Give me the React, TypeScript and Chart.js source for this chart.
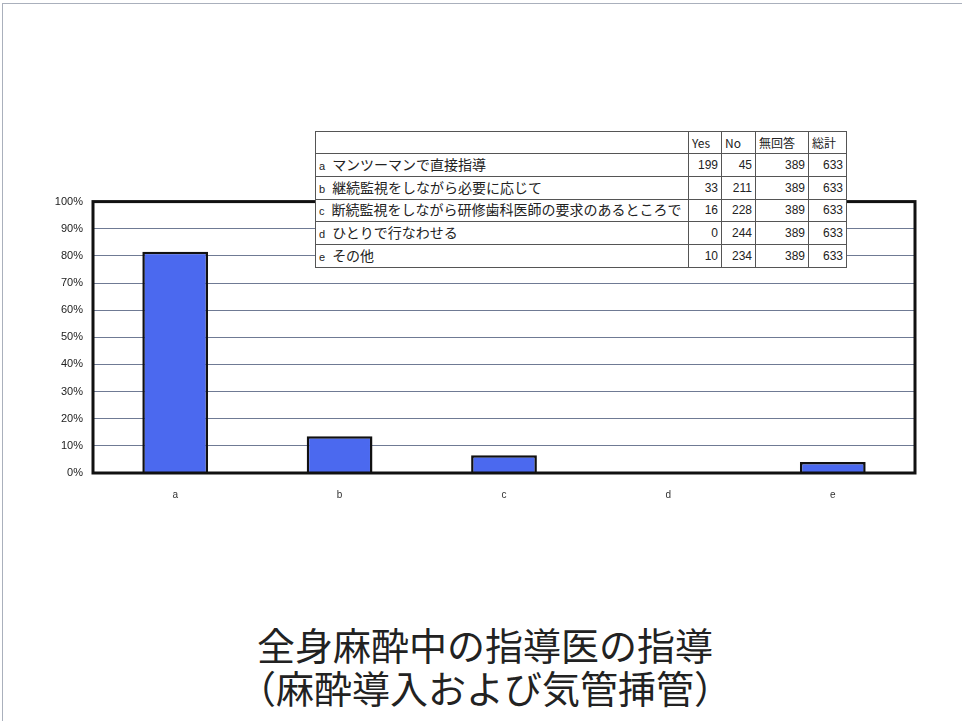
import React, { useEffect, useRef } from "react";
import { Chart, registerables } from "chart.js";

Chart.register(...registerables);

const categories = ["a", "b", "c", "d", "e"];
const descriptions = [
  "マンツーマンで直接指導",
  "継続監視をしながら必要に応じて",
  "断続監視をしながら研修歯科医師の要求のあるところで",
  "ひとりで行なわせる",
  "その他",
];
const yesCounts = [199, 33, 16, 0, 10];
const noCounts = [45, 211, 228, 244, 234];
const noAnswer = [389, 389, 389, 389, 389];
const totals = [633, 633, 633, 633, 633];
const headers = ["Yes", "No", "無回答", "総計"];
const yesRatio = yesCounts.map((y, i) => (y / (y + noCounts[i])) * 100);
const titleLines = ["全身麻酔中の指導医の指導", "（麻酔導入および気管挿管）"];

const CJK = '"Noto Sans CJK JP", "Liberation Sans", sans-serif';

const frame = {
  id: "frame",
  afterDatasetsDraw(chart: any) {
    const { ctx, chartArea } = chart;
    ctx.save();
    ctx.strokeStyle = "#111";
    ctx.lineWidth = 3;
    ctx.strokeRect(chartArea.left, chartArea.top, chartArea.right - chartArea.left, chartArea.bottom - chartArea.top);
    ctx.restore();
  },
};

export default function App() {
  const ref = useRef<HTMLCanvasElement>(null);
  useEffect(() => {
    if (!ref.current) return;
    const chart = new Chart(ref.current, {
      type: "bar",
      data: {
        labels: categories,
        datasets: [
          {
            data: yesRatio,
            backgroundColor: "#4b69ef",
            borderColor: "#111",
            borderWidth: 2.5,
            barPercentage: 0.4,
            categoryPercentage: 1,
          },
        ],
      },
      options: {
        animation: false,
        responsive: false,
        maintainAspectRatio: false,
        layout: { padding: { top: 7, right: 47, left: 0, bottom: 0 } },
        plugins: { legend: { display: false }, tooltip: { enabled: false } },
        scales: {
          x: {
            grid: { display: false, drawTicks: false },
            border: { display: false },
            ticks: { color: "#333", font: { family: "Liberation Sans", size: 10 }, padding: 16 },
            afterFit: (s: any) => { s.height = 47; },
          },
          y: {
            min: 0,
            max: 100,
            grid: { color: "#6f7a94", lineWidth: 1, drawTicks: false },
            border: { display: false },
            ticks: {
              stepSize: 10,
              padding: 10,
              color: "#222",
              font: { family: "Liberation Sans", size: 11 },
              callback: (v: any) => v + "%",
            },
            afterFit: (s: any) => { s.width = 93; },
          },
        },
      },
      plugins: [frame],
    });
    return () => chart.destroy();
  }, []);

  const cell: React.CSSProperties = {
    border: "1px solid #555",
    padding: "0 3px",
    textAlign: "right",
    whiteSpace: "nowrap",
    lineHeight: "16px",
    fontFamily: "Liberation Sans",
  };

  return (
    <div style={{ position: "absolute", left: 0, top: 0, width: 962, height: 721, background: "#fff", overflow: "hidden", fontFamily: CJK }}>
      <div style={{ position: "absolute", left: 2, top: 3, width: 970, height: 730, borderTop: "1px solid #aab0bc", borderLeft: "1px solid #aab0bc" }} />
      <canvas ref={ref} width={962} height={335} style={{ position: "absolute", left: 0, top: 185, width: 962, height: 335 }} />
      <table
        style={{
          position: "absolute",
          left: 315,
          top: 131,
          width: 531,
          height: 137,
          borderCollapse: "collapse",
          background: "#fff",
          fontSize: 12,
          color: "#222",
          fontFamily: CJK,
          border: "1px solid #444",
          tableLayout: "fixed",
        }}
      >
        <colgroup>
          <col style={{ width: 373 }} />
          <col style={{ width: 33 }} />
          <col style={{ width: 34 }} />
          <col style={{ width: 53 }} />
          <col style={{ width: 38 }} />
        </colgroup>
        <tbody>
          <tr style={{ height: 22 }}>
            <td style={cell}></td>
            {headers.map((h) => (
              <td key={h} style={{ ...cell, textAlign: "left", fontFamily: CJK, fontSize: 12 }}>{h}</td>
            ))}
          </tr>
          {categories.map((c, i) => (
            <tr key={c}>
              <td style={{ ...cell, textAlign: "left", overflow: "hidden" }}>
                <span style={{ fontFamily: "Liberation Sans", fontSize: 11 }}>{c}</span>
                <span style={{ marginLeft: 7, fontFamily: CJK, fontSize: 14 }}>{descriptions[i]}</span>
              </td>
              <td style={cell}>{yesCounts[i]}</td>
              <td style={cell}>{noCounts[i]}</td>
              <td style={cell}>{noAnswer[i]}</td>
              <td style={cell}>{totals[i]}</td>
            </tr>
          ))}
        </tbody>
      </table>
      <div
        style={{
          position: "absolute",
          left: 0,
          top: 622,
          width: 970,
          textAlign: "center",
          fontSize: 38,
          lineHeight: "43px",
          color: "#222",
          fontFamily: CJK,
        }}
      >
        {titleLines.map((t) => (
          <div key={t}>{t}</div>
        ))}
      </div>
    </div>
  );
}
